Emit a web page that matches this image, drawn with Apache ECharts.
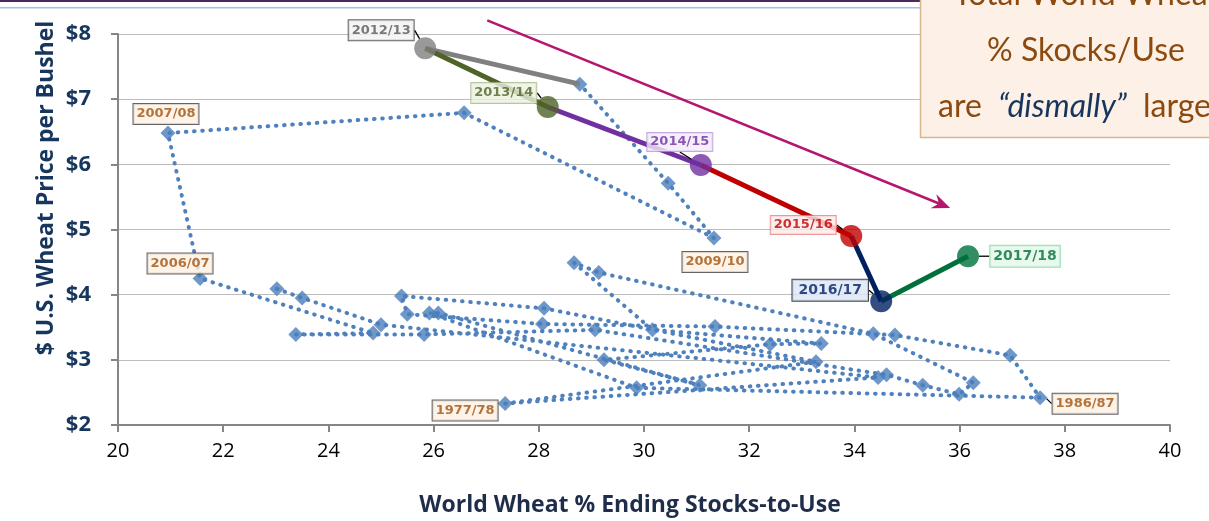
<!DOCTYPE html>
<html>
<head>
<meta charset="utf-8">
<script src="https://cdn.jsdelivr.net/npm/echarts@6/dist/echarts.min.js"></script>
<style>
html,body{margin:0;padding:0;background:#fff;}
#main{width:1209px;height:521px;}
</style>
</head>
<body>
<div id="main"></div>
<script>
// marketing years 1973/74 .. 2011/12 (dotted path)
var histYears = ['1973/74','1974/75','1975/76','1976/77','1977/78','1978/79','1979/80','1980/81','1981/82','1982/83',
  '1983/84','1984/85','1985/86','1986/87','1987/88','1988/89','1989/90','1990/91','1991/92','1992/93',
  '1993/94','1994/95','1995/96','1996/97','1997/98','1998/99','1999/00','2000/01','2001/02','2002/03',
  '2003/04','2004/05','2005/06','2006/07','2007/08','2008/09','2009/10','2010/11','2011/12'];
var histStocks = [23.02, 23.50, 25.00, 34.45, 27.36, 33.27, 28.10, 25.39, 25.50, 28.07,
  31.35, 34.77, 36.96, 37.53, 29.86, 25.92, 26.09, 31.06, 29.24, 32.40,
  33.37, 30.16, 28.67, 29.14, 34.36, 36.26, 35.99, 35.30, 34.61, 29.07,
  25.82, 23.38, 24.85, 21.56, 20.95, 26.58, 31.33, 30.46, 28.78];
var histPrice = [4.09, 3.95, 3.54, 2.73, 2.33, 2.97, 3.79, 3.98, 3.70, 3.55,
  3.51, 3.38, 3.07, 2.42, 2.57, 3.72, 3.72, 2.61, 3.00, 3.24,
  3.25, 3.46, 4.49, 4.34, 3.40, 2.65, 2.47, 2.61, 2.77, 3.46,
  3.39, 3.39, 3.41, 4.25, 6.48, 6.79, 4.87, 5.71, 7.23];

var recentYears = ['2012/13','2013/14','2014/15','2015/16','2016/17','2017/18'];
var recentStocks = [25.84, 28.17, 31.08, 33.94, 34.51, 36.16];
var recentPrice = [7.78, 6.88, 5.99, 4.90, 3.90, 4.59];
var recentColors = ['#808080','#4f6228','#7030a0','#c00000','#002060','#00703c'];

var trendArrow = [[27.02, 8.21], [35.82, 5.33]];

// label box placement (pixel offset from the point) and look
var labelPlace = {
  '1977/78':[-40,7], '1986/87':[45,6], '2006/07':[-20,-15], '2007/08':[-2,-19], '2009/10':[1,24],
  '2012/13':[-44,-18], '2013/14':[-44,-14], '2014/15':[-21,-23], '2015/16':[-48,-11], '2016/17':[-51,-11], '2017/18':[57,0]
};
var leader = {'1986/87':1,'2012/13':1,'2013/14':1,'2014/15':1,'2015/16':1,'2016/17':1,'2017/18':1};
var recentBox = [
  {bg:'#f2f2f2', border:'#3f3f3f', text:'#595959', pad:[4,3,3,3]},
  {bg:'#ebf1de', border:'#a3b88a', text:'#4f6228', pad:[4,3,3,3]},
  {bg:'#f3ebfa', border:'#b794d8', text:'#7030a0', pad:[3,3,2,3]},
  {bg:'#fdeaea', border:'#e88080', text:'#c00000', pad:[3,3,2,3]},
  {bg:'#dce6f6', border:'#1a1a1a', text:'#002060', pad:[4,6,3,6]},
  {bg:'#e3f7ea', border:'#7fd39e', text:'#00703c', pad:[4,3,3,3]}
];

var boxFont = {fontFamily:'DejaVu Sans', fontWeight:'bold', fontSize:13};

var histData = histYears.map(function(y, i){
  var it = {name:y, value:[histStocks[i], histPrice[i]]};
  if (labelPlace[y]) {
    it.label = {show:true};
    if (leader[y]) it.labelLine = {show:true};
  }
  return it;
});

var recentData = recentYears.map(function(y, i){
  var b = recentBox[i];
  return {
    name:y, value:[recentStocks[i], recentPrice[i]],
    itemStyle:{color:recentColors[i]},
    label:{show:true, color:b.text, backgroundColor:b.bg, borderColor:b.border, padding:b.pad,
      fontSize: i >= 4 ? 14 : 13},
    labelLine:{show:true}
  };
});

var series = [{
  type:'line', name:'path', z:1, silent:true,
  data:histYears.map(function(y, i){ return [histStocks[i], histPrice[i]]; }),
  showSymbol:false, symbol:'none',
  lineStyle:{color:'#4f81bd', width:4, type:[0.6, 7.6], cap:'round'}
}, {
  type:'scatter', name:'history', z:2,
  data:histData, symbol:'diamond', symbolSize:15,
  itemStyle:{color:'#4a7ebb'},
  label:Object.assign({show:false, position:'inside', formatter:'{b}', color:'#a0520e',
    backgroundColor:'#fdf0e4', borderColor:'#3f3f3f', borderWidth:1, padding:[4,3,3,3]}, boxFont),
  labelLine:{lineStyle:{color:'#000', width:1.3}},
  labelLayout:function(p){ var o = labelPlace[p.text]; return o ? {dx:o[0], dy:o[1]} : {}; }
}];

// coloured segments, 2011/12 -> 2012/13 -> ... -> 2017/18
var prev = [histStocks[histStocks.length-1], histPrice[histPrice.length-1]];
recentYears.forEach(function(y, i){
  var cur = [recentStocks[i], recentPrice[i]];
  series.push({
    type:'line', z:3, silent:true, data:[prev, cur], symbol:'none',
    lineStyle:{color:recentColors[i], width:5}
  });
  prev = cur;
});

series.push({
  type:'scatter', name:'recent', z:4,
  data:recentData, symbol:'circle', symbolSize:22,
  label:Object.assign({position:'inside', formatter:'{b}', borderWidth:1}, boxFont),
  labelLine:{lineStyle:{color:'#000', width:1.3}},
  labelLayout:function(p){ var o = labelPlace[p.text]; return o ? {dx:o[0], dy:o[1]} : {}; }
});

var chart = echarts.init(document.getElementById('main'));
chart.setOption({
  animation:false,
  grid:{left:118, right:39, top:34, bottom:96, containLabel:false, outerBoundsMode:'none'},
  xAxis:{
    type:'value', min:20, max:40, interval:2,
    axisLine:{lineStyle:{color:'#868686', width:2}},
    axisTick:{show:true, length:7, lineStyle:{color:'#868686', width:2}},
    axisLabel:{color:'#000', fontSize:20, fontFamily:'Open Sans', margin:16},
    splitLine:{show:false}
  },
  yAxis:{
    type:'value', min:2, max:8, interval:1,
    axisLine:{show:true, lineStyle:{color:'#868686', width:2}},
    axisTick:{show:true, length:7, lineStyle:{color:'#868686', width:2}},
    axisLabel:{color:'#17365d', fontSize:22, fontWeight:'bold', fontFamily:'Open Sans', margin:27,
      formatter:function(v){ return '$' + v; }},
    splitLine:{lineStyle:{color:'#bcbcbc', width:1}}
  },
  series:series
});

// decorations, titles, trend arrow and call-out box
var a = chart.convertToPixel('grid', trendArrow[0]);
var b = chart.convertToPixel('grid', trendArrow[1]);
var dx = b[0]-a[0], dy = b[1]-a[1], len = Math.sqrt(dx*dx+dy*dy);
var ux = dx/len, uy = dy/len, nx = -uy, ny = ux;
var notch = [b[0]-ux*12, b[1]-uy*12];
var arrowColor = '#b5166e';

chart.setOption({
  graphic:[
    {type:'rect', shape:{x:0, y:0, width:921, height:2}, style:{fill:'#4b2b5e'}, silent:true},
    {type:'rect', shape:{x:0, y:7, width:921, height:1.5}, style:{fill:'#9dc3e6'}, silent:true},
    {type:'text', x:46, y:188, rotation:Math.PI/2,
      style:{text:'$ U.S. Wheat Price per Bushel', fill:'#17365d', font:'bold 23px "Open Sans"', align:'center', verticalAlign:'middle'}},
    {type:'text', x:630, y:505,
      style:{text:'World Wheat % Ending Stocks-to-Use', fill:'#1f2d4a', font:'bold 23px "Open Sans"', align:'center', verticalAlign:'middle'}},
    {type:'line', z:10, shape:{x1:a[0], y1:a[1], x2:notch[0], y2:notch[1]}, style:{stroke:arrowColor, lineWidth:2.5}},
    {type:'polygon', z:10, shape:{points:[
      [b[0], b[1]],
      [b[0]-ux*18+nx*7.5, b[1]-uy*18+ny*7.5],
      notch,
      [b[0]-ux*18-nx*7.5, b[1]-uy*18-ny*7.5]
    ]}, style:{fill:arrowColor}},
    {type:'group', z:20, children:[
      {type:'rect', shape:{x:920.5, y:-2, width:300, height:139.5}, style:{fill:'#fdf1e7', stroke:'#d8b690', lineWidth:1.5}},
      {type:'text', x:1086, y:-5, style:{text:'Total World Wheat', fill:'#8c4a0f', font:'32px Lato', align:'center', verticalAlign:'middle'}},
      {type:'text', x:1086, y:51, style:{text:'% Skocks/Use', fill:'#8c4a0f', font:'32px Lato', align:'center', verticalAlign:'middle'}},
      {type:'text', x:938, y:107, style:{
        text:'are {i|\u201cdismally\u201d} large', fill:'#8c4a0f', font:'32px Lato', align:'left', verticalAlign:'middle',
        rich:{i:{fill:'#17365d', font:'italic 32px Lato', padding:[0,8,0,8]}}
      }}
    ]}
  ]
});
</script>
</body>
</html>
